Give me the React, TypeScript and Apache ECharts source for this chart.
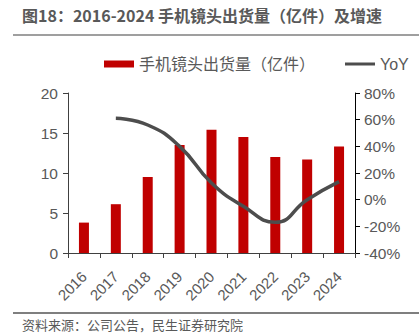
import React, { useEffect, useRef } from "react";
import * as echarts from "echarts";

const categories = ["2016", "2017", "2018", "2019", "2020", "2021", "2022", "2023", "2024"];
const shipments = [3.8, 6.1, 9.5, 13.5, 15.4, 14.5, 12.0, 11.7, 13.3];
const yoy = [null, 61, 56, 40, 12.5, -5, -17, 0, 13.5];
const leftTicks = [0, 5, 10, 15, 20];
const rightTicks = [-40, -20, 0, 20, 40, 60, 80];

const TXT = "#595959";
const FONT = "Liberation Sans, Arial, 'Noto Sans CJK SC', sans-serif";

export default function App() {
  const ref = useRef<HTMLDivElement>(null);
  useEffect(() => {
    if (!ref.current) return;
    const chart = echarts.init(ref.current, null, { renderer: "svg" });
    chart.setOption({
      animation: false,
      textStyle: { fontFamily: FONT },
      grid: { left: 68, right: 64, top: 93, bottom: 83 },
      legend: {
        left: 99,
        top: 51,
        itemWidth: 30,
        itemHeight: 7,
        itemGap: 30,
        textStyle: { color: TXT, fontSize: 16, fontFamily: FONT },
        data: [
          { name: "手机镜头出货量（亿件）", icon: "rect" },
          { name: "YoY", icon: "path://M0,0L30,0L30,3L0,3Z" },
        ],
      },
      graphic: [
        {
          type: "text",
          left: 22,
          top: 7,
          style: {
            text: "图18：2016-2024 手机镜头出货量（亿件）及增速",
            fill: TXT,
            font: "bold 16px 'Noto Sans CJK SC', sans-serif",
          },
        },
        {
          type: "line",
          shape: { x1: 13, y1: 35, x2: 419, y2: 35 },
          style: { stroke: "#7f7f7f", lineWidth: 1.5 },
        },
        {
          type: "line",
          shape: { x1: 13, y1: 313, x2: 419, y2: 313 },
          style: { stroke: "#7f7f7f", lineWidth: 2 },
        },
        {
          type: "text",
          left: 22,
          top: 318,
          style: {
            text: "资料来源：公司公告，民生证券研究院",
            fill: TXT,
            font: "13px 'Noto Sans CJK SC', sans-serif",
          },
        },
      ],
      xAxis: {
        type: "category",
        data: categories,
        axisLine: { lineStyle: { color: "#404040", width: 1 } },
        axisTick: { show: true, lineStyle: { color: "#404040" }, length: 5 },
        axisLabel: { color: TXT, fontSize: 15, rotate: 45, margin: 21, fontFamily: FONT },
      },
      yAxis: [
        {
          type: "value",
          min: leftTicks[0],
          max: leftTicks[leftTicks.length - 1],
          interval: 5,
          splitLine: { show: false },
          axisLine: { show: true, lineStyle: { color: "#404040" } },
          axisTick: { show: true, length: 5, lineStyle: { color: "#404040" } },
          axisLabel: { color: TXT, fontSize: 15.5, margin: 10, fontFamily: FONT },
        },
        {
          type: "value",
          min: rightTicks[0],
          max: rightTicks[rightTicks.length - 1],
          interval: 20,
          splitLine: { show: false },
          axisLine: { show: true, lineStyle: { color: "#000000" } },
          axisTick: { show: true, length: 5, lineStyle: { color: "#000000" } },
          axisLabel: { color: TXT, fontSize: 15.5, margin: 9, formatter: "{value}%", fontFamily: FONT },
        },
      ],
      series: [
        {
          name: "手机镜头出货量（亿件）",
          type: "bar",
          data: shipments,
          barWidth: 10,
          itemStyle: { color: "#c00000" },
        },
        {
          name: "YoY",
          type: "line",
          yAxisIndex: 1,
          data: yoy,
          smooth: true,
          symbol: "none",
          lineStyle: { color: "#4d4d4d", width: 3.5 },
          itemStyle: { color: "#4d4d4d" },
        },
      ],
    });
    return () => chart.dispose();
  }, []);
  return (
    <div
      ref={ref}
      style={{ position: "fixed", left: 0, top: 0, width: 419, height: 336, background: "#fff" }}
    />
  );
}
